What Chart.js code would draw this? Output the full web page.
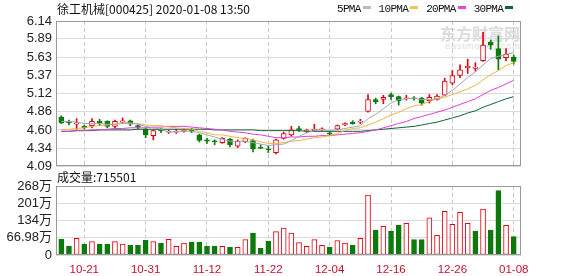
<!DOCTYPE html>
<html>
<head>
<meta charset="utf-8">
<script src="https://cdn.jsdelivr.net/npm/chart.js@4.4.1/dist/chart.umd.min.js"></script>
<style>
body { margin: 0; background: #fff; }
#wrap { position: relative; width: 578px; height: 276px; overflow: hidden; }
canvas { position: absolute; left: 0; top: 0; }
.txt { position: absolute; white-space: nowrap; color: #111; }
.sw { display: inline-block; width: 8px; height: 3px; margin: 0 8px 3px 2px; vertical-align: middle; }
</style>
</head>
<body>
<div id="wrap">
  <div class="txt" style="left:440px;top:24px;font:bold 16px 'Noto Sans CJK SC';color:#dcdcdc;line-height:18px;">东方财富网</div>
  <div class="txt" style="left:445px;top:41px;font:9px 'Liberation Sans';color:#dcdcdc;letter-spacing:1px;">eastmoney.com</div>
  <canvas id="kline" width="578" height="276"></canvas>
  <canvas id="vol" width="578" height="276"></canvas>
  <div class="txt" style="left:57px;top:2px;font:12px 'Noto Sans CJK SC';line-height:14px;">徐工机械[000425] 2020-01-08 13:50</div>
  <div class="txt" style="left:337px;top:2px;font:11px 'Liberation Mono';letter-spacing:-0.7px;line-height:14px;">5PMA<span class="sw" style="background:#b8bcc4"></span>10PMA<span class="sw" style="background:#f5c55a"></span>20PMA<span class="sw" style="background:#e048d8"></span>30PMA<span class="sw" style="background:#14603a"></span></div>
  <div class="txt" style="left:57px;top:170px;font:12px 'Noto Sans CJK SC';line-height:14px;">成交量:715501</div>
</div>
<script>
// trading days shown (2019-10-16 .. 2020-01-08)
var dates = ['10-16','10-17','10-18','10-21','10-22','10-23','10-24','10-25','10-28','10-29',
             '10-30','10-31','11-01','11-04','11-05','11-06','11-07','11-08','11-11','11-12',
             '11-13','11-14','11-15','11-18','11-19','11-20','11-21','11-22','11-25','11-26',
             '11-27','11-28','11-29','12-02','12-03','12-04','12-05','12-06','12-09','12-10',
             '12-11','12-12','12-13','12-16','12-17','12-18','12-19','12-20','12-23','12-24',
             '12-25','12-26','12-27','12-30','12-31','01-02','01-03','01-06','01-07','01-08'];

var opens  = [4.78,4.71,4.68,4.65,4.66,4.72,4.72,4.65,4.71,4.73, 4.66,4.61,4.52,4.60,4.57,4.57,4.58,4.60,4.53,4.46,
              4.44,4.42,4.47,4.37,4.43,4.45,4.35,4.33,4.28,4.48, 4.53,4.62,4.58,4.59,4.60,4.56,4.61,4.67,4.71,4.71,
              4.86,5.03,5.03,5.10,5.07,5.04,5.05,5.05,5.01,5.03, 5.09,5.26,5.37,5.48,5.47,5.58,5.84,5.75,5.62,5.63];
var highs  = [4.80,4.74,4.76,4.67,4.76,4.75,4.73,4.74,4.77,4.74, 4.67,4.62,4.60,4.62,4.60,4.61,4.62,4.62,4.54,4.48,
              4.46,4.49,4.48,4.46,4.49,4.47,4.39,4.38,4.47,4.57, 4.65,4.65,4.61,4.68,4.63,4.58,4.67,4.70,4.73,4.75,
              5.10,5.05,5.09,5.12,5.08,5.09,5.07,5.06,5.10,5.10, 5.33,5.44,5.52,5.60,5.55,5.98,5.87,5.93,5.75,5.66];
var lows   = [4.69,4.67,4.61,4.61,4.63,4.66,4.63,4.63,4.69,4.66, 4.61,4.49,4.46,4.56,4.55,4.55,4.57,4.56,4.43,4.41,
              4.39,4.41,4.36,4.35,4.42,4.29,4.34,4.28,4.26,4.47, 4.51,4.58,4.56,4.58,4.59,4.52,4.60,4.66,4.68,4.69,
              4.85,4.97,4.97,5.03,4.95,5.02,5.02,4.95,4.98,5.02, 5.08,5.24,5.34,5.40,5.43,5.57,5.74,5.45,5.58,5.53];
var closes = [4.70,4.70,4.70,4.63,4.72,4.70,4.65,4.72,4.73,4.68, 4.64,4.53,4.59,4.59,4.58,4.58,4.59,4.58,4.45,4.44,
              4.43,4.48,4.39,4.44,4.48,4.33,4.34,4.32,4.46,4.55, 4.60,4.60,4.59,4.61,4.61,4.54,4.66,4.69,4.69,4.72,
              5.03,5.00,5.06,5.07,5.01,5.05,5.04,4.98,5.06,5.08, 5.29,5.37,5.45,5.50,5.49,5.80,5.80,5.60,5.67,5.57];

// volume in 万, bar direction as shown (R = up, G = down)
var volumes = [61,35,65,42,52,42,42,52,42,38, 38,57,52,46,61,34,46,50,50,34,
               34,34,30,30,60,85,26,54,91,105, 85,48,34,60,38,30,56,46,38,65,
               233,97,111,93,116,123,60,60,144,76, 170,119,166,123,93,178,97,250,115,71.55];
var volDir = 'GGRGRGGRRGGGRGRRRGGGGRGRRGGGRRRRRRRGRRGRRGRGGRGGRRRRRRGRGGRG';

var ma5  = [4.72,4.72,4.71,4.69,4.69,4.69,4.68,4.68,4.70,4.70, 4.68,4.65,4.63,4.61,4.57,4.57,4.59,4.58,4.56,4.53,
            4.50,4.47,4.44,4.44,4.44,4.42,4.40,4.38,4.39,4.40, 4.45,4.51,4.56,4.59,4.60,4.59,4.60,4.62,4.64,4.66,
            4.76,4.82,4.90,4.98,5.03,5.04,5.05,5.03,5.03,5.04, 5.09,5.16,5.25,5.34,5.42,5.52,5.61,5.64,5.67,5.69];
var ma10 = [4.60,4.61,4.62,4.63,4.65,4.66,4.67,4.68,4.69,4.69, 4.69,4.67,4.66,4.66,4.64,4.63,4.62,4.61,4.58,4.56,
            4.53,4.53,4.51,4.49,4.48,4.46,4.43,4.41,4.41,4.42, 4.44,4.45,4.47,4.49,4.50,4.52,4.55,4.59,4.62,4.63,
            4.67,4.71,4.76,4.81,4.85,4.90,4.94,4.96,5.00,5.04, 5.06,5.10,5.14,5.18,5.23,5.31,5.38,5.44,5.51,5.55];
var ma20 = [4.58,4.58,4.59,4.59,4.60,4.60,4.61,4.62,4.62,4.63, 4.63,4.63,4.64,4.64,4.65,4.65,4.65,4.64,4.63,4.62,
            4.61,4.60,4.58,4.57,4.56,4.54,4.53,4.51,4.49,4.49, 4.50,4.50,4.51,4.51,4.52,4.52,4.53,4.54,4.55,4.56,
            4.58,4.60,4.63,4.66,4.69,4.72,4.76,4.79,4.82,4.85, 4.88,4.92,4.96,5.00,5.04,5.10,5.16,5.20,5.25,5.30];
var ma30 = [4.58,4.58,4.59,4.59,4.59,4.60,4.60,4.60,4.60,4.60, 4.61,4.61,4.61,4.61,4.61,4.61,4.61,4.61,4.61,4.61,
            4.60,4.60,4.60,4.60,4.60,4.60,4.59,4.59,4.59,4.59, 4.59,4.59,4.58,4.58,4.58,4.58,4.58,4.58,4.58,4.58,
            4.59,4.60,4.61,4.62,4.63,4.64,4.65,4.67,4.69,4.71, 4.74,4.77,4.80,4.84,4.87,4.92,4.96,5.00,5.04,5.07];

var priceTicks = [4.09, 4.34, 4.60, 4.86, 5.12, 5.37, 5.63, 5.89, 6.14];
var volTicks = [0, 66.98, 134, 201, 268];
var volTickLabels = ['0', '66.98万', '134万', '201万', '268万'];
var dateTickIdx = [3, 11, 19, 27, 35, 43, 51, 59];

var RED = '#e00010', GREEN = '#0b7a0b';

Chart.defaults.font.family = "'Liberation Sans', 'Noto Sans CJK SC', sans-serif";
Chart.defaults.animation = false;

// grey box round each plot
var frame = {
    id: 'frame',
    afterDraw: function(chart) {
        var a = chart.chartArea, c = chart.ctx;
        c.save();
        c.strokeStyle = '#999';
        c.lineWidth = 1;
        c.strokeRect(Math.round(a.left) + 0.5, Math.round(a.top) + 0.5,
                     Math.round(a.right - a.left) - 1, Math.round(a.bottom - a.top) - 1);
        c.restore();
    }
};

var xMin = -0.69, xMax = 59.95;

function xAxis(showLabels) {
    return {
        type: 'linear',
        min: xMin,
        max: xMax,
        offset: false,
        afterBuildTicks: function(axis) {
            axis.ticks = dateTickIdx.map(function(v) { return { value: v }; });
        },
        afterFit: function(axis) { axis.height = showLabels ? 21 : 0; },
        grid: { color: '#c8c8c8', drawTicks: false, offset: false },
        border: { display: false, dash: [4, 3] },
        ticks: {
            display: showLabels,
            autoSkip: false,
            maxRotation: 0,
            padding: 8,
            color: '#c8102e',
            font: { size: 11.5 },
            callback: function(v) { return dates[v]; }
        }
    };
}

function yAxis(lo, hi, tickVals, label) {
    return {
        min: lo,
        max: hi,
        afterBuildTicks: function(axis) {
            axis.ticks = tickVals.map(function(v) { return { value: v }; });
        },
        afterFit: function(axis) { axis.width = 56; },
        grid: { color: '#dcdcdc', drawTicks: false },
        border: { display: false },
        ticks: {
            autoSkip: false,
            padding: 4,
            color: '#222',
            font: { size: 13 },
            callback: label
        }
    };
}

function isUp(i) { return closes[i] >= opens[i]; }

var bodies = opens.map(function(o, i) { return { x: i, y: [o, closes[i]] }; });
var wicks = lows.map(function(l, i) { return { x: i, y: [l, highs[i]] }; });

function maLine(values, color) {
    return {
        type: 'line',
        data: values.map(function(v, i) { return { x: i, y: v }; }),
        borderColor: color,
        borderWidth: 1,
        pointRadius: 0,
        tension: 0,
        order: 0
    };
}

// price chart
new Chart(document.getElementById('kline').getContext('2d'), {
    type: 'bar',
    data: {
        datasets: [
            maLine(ma5, '#9ea8b8'),
            maLine(ma10, '#f0b443'),
            maLine(ma20, '#e040d8'),
            maLine(ma30, '#14603a'),
            {
                data: bodies,
                grouped: false,
                barThickness: 5,
                minBarLength: 1,
                borderWidth: 1,
                borderSkipped: false,
                backgroundColor: bodies.map(function(d, i) { return isUp(i) ? '#fff' : GREEN; }),
                borderColor: bodies.map(function(d, i) { return isUp(i) ? RED : GREEN; }),
                order: 1
            },
            {
                data: wicks,
                grouped: false,
                barThickness: 1,
                borderWidth: 0,
                backgroundColor: wicks.map(function(d, i) { return isUp(i) ? RED : GREEN; }),
                order: 2
            }
        ]
    },
    options: {
        responsive: false,
        layout: { padding: { left: 0, right: 57, top: 21, bottom: 110 } },
        plugins: { legend: { display: false }, tooltip: { enabled: false } },
        scales: {
            x: xAxis(false),
            y: yAxis(4.09, 6.14, priceTicks, function(v) { return v.toFixed(2); })
        }
    },
    plugins: [frame]
});

// volume chart
var volData = volumes.map(function(v, i) { return { x: i, y: v }; });
new Chart(document.getElementById('vol').getContext('2d'), {
    type: 'bar',
    data: {
        datasets: [{
            data: volData,
            barThickness: 5,
            borderWidth: 1,
            borderSkipped: false,
            backgroundColor: volData.map(function(d, i) { return volDir[i] === 'R' ? '#fff' : GREEN; }),
            borderColor: volData.map(function(d, i) { return volDir[i] === 'R' ? RED : GREEN; })
        }]
    },
    options: {
        responsive: false,
        layout: { padding: { left: 0, right: 57, top: 186, bottom: 0 } },
        plugins: { legend: { display: false }, tooltip: { enabled: false } },
        scales: {
            x: xAxis(true),
            y: yAxis(0, 268, volTicks, function(v, idx) { return volTickLabels[idx]; })
        }
    },
    plugins: [frame]
});
</script>
</body>
</html>
